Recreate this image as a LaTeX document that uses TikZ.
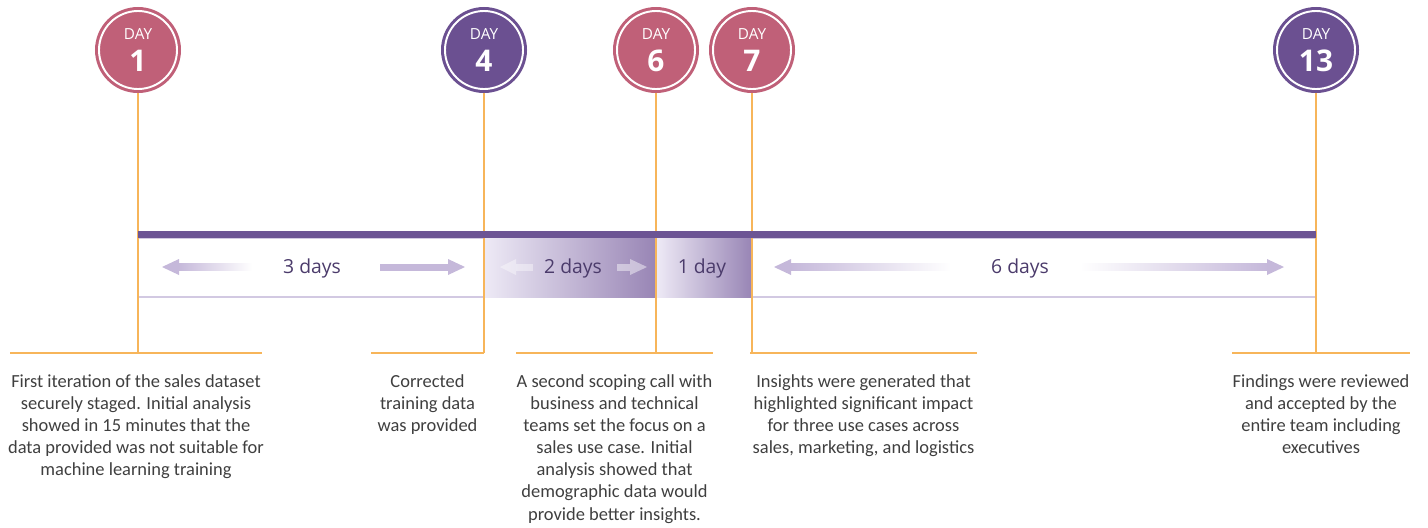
\documentclass[tikz,border=0pt]{standalone}
\usepackage{fontspec}
\setmainfont{Carlito}
\newfontfamily\badgefont{Open Sans}
\usetikzlibrary{positioning,calc}

\definecolor{daypink}{HTML}{C06078}
\definecolor{daypurple}{HTML}{6B5091}
\definecolor{barpurple}{HTML}{6C5494}
\definecolor{tickorange}{HTML}{F7B55A}
\definecolor{lavline}{HTML}{D2C9E2}
\definecolor{lavarrow}{HTML}{C5B8DA}
\definecolor{spantext}{HTML}{4B3B6B}
\definecolor{notetext}{HTML}{3F3F3F}
\definecolor{shadelight}{HTML}{EEEAF6}
\definecolor{shadedark}{HTML}{9885B5}

\tikzset{
  daybadge/.style={circle, fill=#1, draw=white, line width=1.1pt, minimum size=1.56cm, inner sep=0pt, outer sep=0.08cm,
    preaction={draw=#1, line width=0.16cm}},
  dayword/.style={font=\badgefont\fontsize{8.7}{9}\selectfont, text=white, anchor=base, inner sep=0pt},
  daynum/.style={font=\badgefont\bfseries\fontsize{17}{18}\selectfont, text=white, anchor=base, inner sep=0pt},
  tickline/.style={draw=tickorange, line width=0.85pt},
  spanlabel/.style={font=\badgefont\fontsize{11}{12}\selectfont, text=spantext, anchor=base, inner sep=0pt},
  note/.style={font=\fontsize{10.5}{12.6}\selectfont, text=notetext, align=center, anchor=north, inner sep=0pt}
}

\begin{document}
\begin{tikzpicture}[x=0.2mm, y=-0.2mm]
  \useasboundingbox (0,0) rectangle (1428,527);

  % day badges
  \node[daybadge=daypink] (d1) at (138,50) {};
  \node[daybadge=daypurple] (d4) at (484,50) {};
  \node[daybadge=daypink] (d6) at (656,50) {};
  \node[daybadge=daypink] (d7) at (752,50) {};
  \node[daybadge=daypurple] (d13) at (1316,50) {};
  \foreach \d/\n in {d1/1, d4/4, d6/6, d7/7, d13/13} {
    \node[dayword] (\d word) at ($(\d)+(0,-11)$) {DAY};
    \node[daynum] (\d num) at ($(\d)+(0,21)$) {\n};
  }

  % span box under the bar
  \draw[lavline, line width=0.8pt] (138,238) rectangle (1316,297);
  \shade[left color=shadelight, right color=shadedark] (484,238) rectangle (656,297);
  \shade[left color=shadelight, right color=shadedark] (656,238) rectangle (752,297);

  % tick lines
  \coordinate (t1) at (138,353);   \coordinate (t1l) at (10,353);   \coordinate (t1r) at (262,353);
  \coordinate (t4) at (484,353);   \coordinate (t4l) at (371,353);  \coordinate (t4r) at (484,353);
  \coordinate (t6) at (656,353);   \coordinate (t6l) at (516,353);  \coordinate (t6r) at (713,353);
  \coordinate (t7) at (752,353);   \coordinate (t7l) at (750,353);  \coordinate (t7r) at (977,353);
  \coordinate (t13) at (1316,353); \coordinate (t13l) at (1232,353); \coordinate (t13r) at (1410,353);
  \foreach \d in {1,4,6,7,13} {
    \draw[tickline] (d\d) -- (t\d);
    \draw[tickline] (t\d l) -- (t\d r);
  }

  % main bar
  \fill[barpurple] (138,231) rectangle (1316,238);

  % span arrows
  \fill[lavarrow] (162,267) -- (179,259) -- (179,275) -- cycle;
  \shade[left color=lavarrow, right color=white] (178,263.5) rectangle (252,270.5);
  \fill[lavarrow] (380,263.5) rectangle (449,270.5);
  \fill[lavarrow] (465,267) -- (448,259) -- (448,275) -- cycle;

  \fill[white, opacity=0.4] (500,267) -- (516,259) -- (516,275) -- cycle;
  \fill[white, opacity=0.4] (516,263.5) rectangle (533,270.5);
  \fill[white, opacity=0.45] (617,263.5) rectangle (630,270.5);
  \fill[white, opacity=0.45] (647,267) -- (630,259) -- (630,275) -- cycle;

  \fill[lavarrow] (774,267) -- (791,259) -- (791,275) -- cycle;
  \shade[left color=lavarrow, right color=white] (790,263.5) rectangle (951,270.5);
  \shade[left color=white, right color=lavarrow] (1080,263.5) rectangle (1268,270.5);
  \fill[lavarrow] (1284,267) -- (1267,259) -- (1267,275) -- cycle;

  \node[spanlabel] (s3) at (312,273) {3 days};
  \node[spanlabel] (s2) at (573,273) {2 days};
  \node[spanlabel] (s1) at (702,273) {1 day};
  \node[spanlabel] (s6) at (1020,273) {6 days};

  % notes
  \node[note] (n1) at ($(t1l)!0.5!(t1r)+(0,21)$) {First iteration of the sales dataset\\securely staged. Initial analysis\\showed in 15 minutes that the\\data provided was not suitable for\\machine learning training};
  \node[note] (n4) at ($(t4l)!0.5!(t4r)+(0,21)$) {Corrected\\training data\\was provided};
  \node[note] (n6) at ($(t6l)!0.5!(t6r)+(0,21)$) {A second scoping call with\\business and technical\\teams set the focus on a\\sales use case. Initial\\analysis showed that\\demographic data would\\provide better insights.};
  \node[note] (n7) at ($(t7l)!0.5!(t7r)+(0,21)$) {Insights were generated that\\highlighted significant impact\\for three use cases across\\sales, marketing, and logistics};
  \node[note] (n13) at ($(t13l)!0.5!(t13r)+(0,21)$) {Findings were reviewed\\and accepted by the\\entire team including\\executives};
\end{tikzpicture}
\end{document}
